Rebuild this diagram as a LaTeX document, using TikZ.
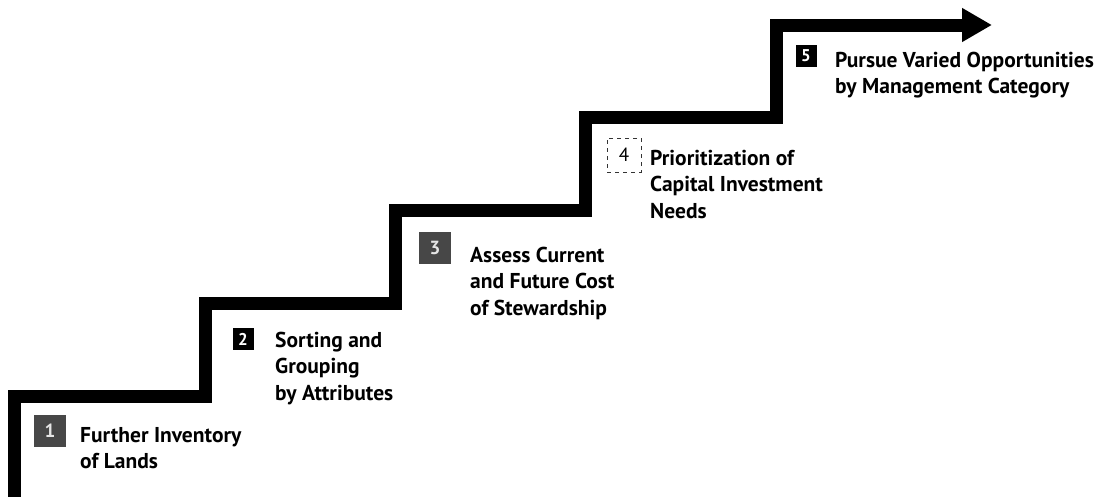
\documentclass[tikz,border=0pt]{standalone}
\usepackage{fontspec}
\setmainfont{PT Sans}
\usetikzlibrary{arrows.meta}
\tikzset{
  stair/.style={line width=13pt, miter limit=10, line join=miter, -{Triangle[length=30pt,width=32pt]}},
  lab/.style={font=\bfseries\fontsize{21.5}{26.5}\selectfont, align=left, anchor=base west, inner sep=0pt, text=black},
  numsolid/.style={fill=black, text=white, minimum width=21pt, minimum height=22pt, inner sep=0pt, font=\bfseries\fontsize{17}{17}\selectfont},
  numgray/.style={fill=black!72, text=white!90!black, minimum size=32pt, inner sep=0pt, font=\bfseries\fontsize{19}{19}\selectfont},
  numdash/.style={draw=black!80, dash pattern=on 4pt off 4pt, line width=1pt, text=black, minimum size=34pt, inner sep=0pt, font=\fontsize{19}{19}\selectfont}
}
\begin{document}
\begin{tikzpicture}[x=1pt,y=-1pt]
\useasboundingbox (0,0) rectangle (1120,496);
\coordinate (s0) at (14,505);
\coordinate (s1) at (14,396);
\coordinate (s2) at (205,396);
\coordinate (s3) at (205,303);
\coordinate (s4) at (395,303);
\coordinate (s5) at (395,210);
\coordinate (s6) at (585,210);
\coordinate (s7) at (585,117);
\coordinate (s8) at (776,117);
\coordinate (s9) at (776,25);
\coordinate (s10) at (992,25);
\draw[stair] (s0) -- (s1) -- (s2) -- (s3) -- (s4) -- (s5) -- (s6) -- (s7) -- (s8) -- (s9) -- (s10);

\node[numgray] (b1) at (50,431) {1};
\node[lab] (t1) at (80,468.5) {Further Inventory\\of Lands};

\node[numsolid] (b2) at (243,339) {2};
\node[lab] (t2) at (275,400) {Sorting and\\Grouping\\by Attributes};

\node[numgray] (b3) at (435,248) {3};
\node[lab] (t3) at (470,315) {Assess Current\\and Future Cost\\of Stewardship};

\node[numdash] (b4) at (624,155) {4};
\node[lab] (t4) at (650,218) {Prioritization of\\Capital Investment\\Needs};

\node[numsolid] (b5) at (806,56) {5};
\node[lab] (t5) at (835,93.5) {Pursue Varied Opportunities\\by Management Category};
\end{tikzpicture}
\end{document}
